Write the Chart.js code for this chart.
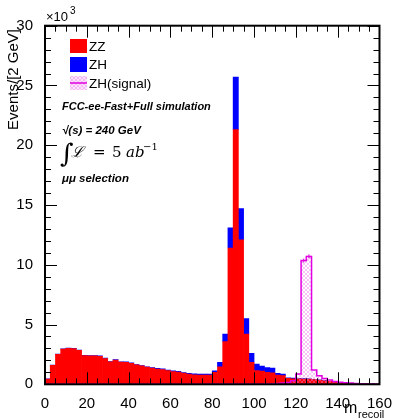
<!DOCTYPE html>
<html><head><meta charset="utf-8">
<script src="https://cdn.jsdelivr.net/npm/chart.js@4/dist/chart.umd.min.js"></script>
<style>html,body{margin:0;padding:0;background:#fff;}</style>
</head><body>
<canvas id="c" width="395" height="419"></canvas>
<script>
// ---- data (values in units of 10^3 events per bin) ----
const binWidth = 2.5;          // GeV per bin (64 bins from 0 to 160)
const zzValues = [
  0.44, 1.59, 2.51, 2.95, 3.00, 2.98, 2.84, 2.40, 2.38, 2.38,
  2.35, 2.16, 1.88, 2.03, 1.86, 1.84, 1.76, 1.62, 1.54, 1.44,
  1.36, 1.28, 1.24, 1.15, 1.06, 1.02, 0.93, 0.85, 0.80, 0.78,
  0.78, 0.78, 1.00, 1.47, 3.57, 11.40, 21.30, 12.08, 4.20, 1.83,
  1.15, 1.10, 1.00, 0.95, 0.78, 0.72, 0.50, 0.46, 0.45, 0.44,
  0.43, 0.40, 0.36, 0.30, 0.24, 0.18, 0.14, 0.10, 0.07, 0.05,
  0.04, 0.03, 0.02, 0.01
];
const zhValues = [
  0.02, 0.02, 0.02, 0.02, 0.02, 0.02, 0.02, 0.02, 0.02, 0.02,
  0.03, 0.03, 0.03, 0.03, 0.03, 0.03, 0.03, 0.03, 0.03, 0.03,
  0.04, 0.05, 0.05, 0.05, 0.06, 0.06, 0.06, 0.07, 0.07, 0.07,
  0.07, 0.08, 0.12, 0.37, 0.63, 1.70, 4.40, 2.62, 1.30, 0.77,
  0.55, 0.42, 0.40, 0.40, 0.14, 0.14, 0.05, 0.05, 0.03, 0.03,
  0.02, 0.02, 0.02, 0.02, 0.01, 0.01, 0.01, 0.01, 0.01, 0.01,
  0.01, 0.01, 0.01, 0.01
];
const signalValues = [
  0.01, 0.01, 0.01, 0.01, 0.01, 0.01, 0.01, 0.01, 0.01, 0.01,
  0.01, 0.01, 0.01, 0.01, 0.01, 0.01, 0.01, 0.01, 0.01, 0.01,
  0.01, 0.01, 0.01, 0.01, 0.01, 0.01, 0.01, 0.01, 0.01, 0.01,
  0.01, 0.02, 0.02, 0.02, 0.02, 0.02, 0.02, 0.02, 0.02, 0.02,
  0.03, 0.03, 0.04, 0.05, 0.07, 0.10, 0.15, 0.30, 0.86, 10.35,
  10.70, 1.20, 0.72, 0.48, 0.36, 0.24, 0.18, 0.13, 0.10, 0.07,
  0.05, 0.03, 0.02, 0.01
];
const xTickLabels = [0, 20, 40, 60, 80, 100, 120, 140, 160];
const yTickLabels = [0, 5, 10, 15, 20, 25, 30];
const legendLabels = ['ZZ', 'ZH', 'ZH(signal)'];

// ---- build datasets ----
const centers = zzValues.map((v, i) => (i + 0.5) * binWidth);
const zzData = zzValues.map((v, i) => ({x: centers[i], y: v}));
const zhData = zhValues.map((v, i) => ({x: centers[i], y: v}));
const sigData = signalValues.map((v, i) => ({x: i * binWidth, y: v}));
sigData.push({x: signalValues.length * binWidth, y: signalValues[signalValues.length - 1]});

const canvas = document.getElementById('c');
const ctx0 = canvas.getContext('2d');
function makeHatch() {
  const p = document.createElement('canvas');
  p.width = 4; p.height = 4;
  const g = p.getContext('2d');
  g.strokeStyle = 'rgba(235,120,235,0.55)';
  g.lineWidth = 0.8;
  g.beginPath();
  g.moveTo(0, 4); g.lineTo(4, 0);
  g.moveTo(0, 0); g.lineTo(4, 4);
  g.stroke();
  return ctx0.createPattern(p, 'repeat');
}
const hatch = makeHatch();

const SANS = '"Liberation Sans", Arial, Helvetica, sans-serif';
const SERIF = '"DejaVu Serif", "Liberation Serif", serif';
Chart.defaults.color = '#000';
Chart.defaults.font.family = SANS;

const decorPlugin = {
  id: 'decor',
  afterDraw(chart) {
    const {ctx, chartArea: a, scales: {x, y}} = chart;
    ctx.save();
    // small statistical error marks on the signal histogram
    ctx.strokeStyle = '#e000e0';
    ctx.lineWidth = 1;
    ctx.beginPath();
    signalValues.forEach((v, i) => {
      if (v < 5) return;
      const cx = x.getPixelForValue((i + 0.5) * binWidth);
      const cy = y.getPixelForValue(v);
      const e = Math.sqrt(v * 1000) / 1000;
      const dy = Math.max(2, Math.abs(y.getPixelForValue(v + e) - cy));
      ctx.moveTo(cx - 2.5, cy); ctx.lineTo(cx + 2.5, cy);
      ctx.moveTo(cx, cy - dy); ctx.lineTo(cx, cy + dy);
    });
    ctx.stroke();
    // ticks (inside, ROOT style)
    ctx.strokeStyle = '#000';
    ctx.lineWidth = 1;
    ctx.beginPath();
    for (let v = 0; v <= 160; v += 5) {
      const px = Math.round(x.getPixelForValue(v)) + 0.5;
      const L = (v % 20 === 0) ? 12 : 6;
      ctx.moveTo(px, a.bottom); ctx.lineTo(px, a.bottom - L);
      ctx.moveTo(px, a.top); ctx.lineTo(px, a.top + L);
    }
    for (let v = 0; v <= 30; v += 1) {
      const py = Math.round(y.getPixelForValue(v)) + 0.5;
      const L = (v % 5 === 0) ? 12 : 6;
      ctx.moveTo(a.left, py); ctx.lineTo(a.left + L, py);
      ctx.moveTo(a.right, py); ctx.lineTo(a.right - L, py);
    }
    ctx.stroke();
    // frame
    ctx.lineWidth = 2;
    ctx.strokeRect(a.left, a.top, a.right - a.left, a.bottom - a.top);

    ctx.fillStyle = '#000';
    // y title
    ctx.save();
    ctx.translate(14, 29);
    ctx.rotate(-Math.PI / 2);
    ctx.font = '15px ' + SANS;
    ctx.textAlign = 'right';
    ctx.textBaseline = 'middle';
    ctx.fillText('Events/[2 GeV]', 0, 0);
    ctx.restore();
    // x10^3
    ctx.textAlign = 'left';
    ctx.textBaseline = 'alphabetic';
    ctx.font = '13px ' + SANS;
    ctx.fillText('\u00d710', 46, 21);
    ctx.font = '10px ' + SANS;
    ctx.fillText('3', 70, 14);
    // x title
    ctx.font = '16px ' + SANS;
    ctx.fillText('m', 344, 413);
    ctx.font = '11px ' + SANS;
    ctx.fillText('recoil', 358, 418);

    // legend
    ctx.fillStyle = '#ff0000'; ctx.fillRect(70, 39, 17, 14);
    ctx.fillStyle = '#0000ff'; ctx.fillRect(70, 57, 17, 15);
    ctx.fillStyle = '#fbe6fb'; ctx.fillRect(70, 76, 17, 14);
    ctx.fillStyle = hatch; ctx.fillRect(70, 76, 17, 14);
    ctx.strokeStyle = '#e000e0'; ctx.lineWidth = 1.5;
    ctx.beginPath(); ctx.moveTo(70, 83); ctx.lineTo(87, 83); ctx.stroke();
    ctx.fillStyle = '#000';
    ctx.font = '13.5px ' + SANS;
    ctx.textBaseline = 'middle';
    ctx.fillText(legendLabels[0], 89, 47);
    ctx.fillText(legendLabels[1], 89, 65);
    ctx.fillText(legendLabels[2], 89, 84);

    // annotations
    ctx.textBaseline = 'alphabetic';
    ctx.font = 'italic bold 11px ' + SANS;
    ctx.fillText('FCC-ee-Fast+Full simulation', 62, 110);
    ctx.font = 'italic bold 11.5px ' + SANS;
    ctx.fillText('\u221a(s) = 240 GeV', 62, 134);
    ctx.fillText('\u03bc\u03bc selection', 62, 182);
    ctx.font = '26px ' + SERIF;
    ctx.fillText('\u222b', 60, 162);
    ctx.font = 'italic 15px ' + SERIF;
    ctx.fillText('\u2112', 71, 157);
    ctx.font = '15px ' + SERIF;
    ctx.fillText('=', 93, 157);
    ctx.fillText('5', 112, 157);
    ctx.font = 'italic 15px ' + SERIF;
    ctx.fillText('ab', 126, 157);
    ctx.font = '10px ' + SERIF;
    ctx.fillText('\u22121', 143, 150);
    ctx.restore();
  }
};

new Chart(canvas, {
  data: {
    datasets: [
      {type: 'bar', label: legendLabels[0], data: zzData, backgroundColor: '#ff0000', borderWidth: 0, order: 2,
       barPercentage: 1, categoryPercentage: 1, yAxisID: 'y'},
      {type: 'bar', label: legendLabels[1], data: zhData, backgroundColor: '#0000ff', borderWidth: 0, order: 2,
       barPercentage: 1, categoryPercentage: 1, yAxisID: 'y'},
      {type: 'line', label: legendLabels[2], data: sigData, stepped: 'before', borderColor: '#e000e0',
       borderWidth: 1.5, pointRadius: 0, fill: 'origin', backgroundColor: hatch, order: 0, yAxisID: 'ys'}
    ]
  },
  options: {
    responsive: false,
    animation: false,
    events: [],
    layout: {padding: {left: 0, right: 13.3, top: 25.7, bottom: 0}},
    plugins: {legend: {display: false}, tooltip: {enabled: false}},
    scales: {
      x: {
        type: 'linear', min: 0, max: 160, stacked: true, offset: false,
        grid: {display: false, offset: false}, border: {display: false},
        ticks: {stepSize: 20, autoSkip: false, maxRotation: 0, padding: 3,
                font: {size: 15, family: SANS}, color: '#000',
                callback: (v) => xTickLabels.includes(v) ? String(v) : ''},
        afterFit: (s) => { s.height = 34.7; }
      },
      y: {
        type: 'linear', min: 0, max: 30, stacked: true,
        grid: {display: false}, border: {display: false},
        ticks: {stepSize: 5, padding: 4, font: {size: 15, family: SANS}, color: '#000',
                callback: (v) => yTickLabels.includes(v) ? String(v) : ''},
        afterFit: (s) => { s.width = 45; }
      },
      ys: {
        type: 'linear', min: 0, max: 30, stacked: false, display: false
      }
    }
  },
  plugins: [decorPlugin]
});
</script>
</body></html>
